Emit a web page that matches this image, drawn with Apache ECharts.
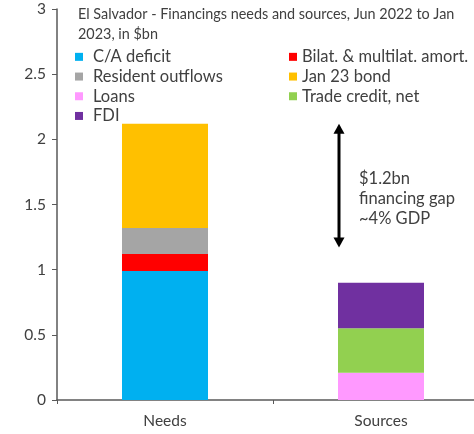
<!DOCTYPE html>
<html>
<head>
<meta charset="utf-8">
<script src="https://cdn.jsdelivr.net/npm/echarts@6/dist/echarts.min.js"></script>
<style>
  html, body { margin: 0; padding: 0; background: #fff; overflow: hidden; }
  /* plot area runs past the right edge of the window, so the canvas is wider */
  #chart { width: 489px; height: 434px; }
</style>
</head>
<body>
<div id="chart"></div>
<script>
// Financing needs vs sources, $bn
const categories = ['Needs', 'Sources'];
const caDeficit      = [0.99, '-'];
const bilatAmort     = [0.13, '-'];
const residentOut    = [0.20, '-'];
const jan23Bond      = [0.80, '-'];
const loans          = ['-', 0.21];
const tradeCredit    = ['-', 0.34];
const fdi            = ['-', 0.35];
const yTicks = [0, 0.5, 1, 1.5, 2, 2.5, 3];
const gapTop = 2.12, gapBottom = 1.17;
const gapText = ['$1.2bn', 'financing gap', '~4% GDP'];

const FONT = 'Lato';
const TXT = '#404040';
const BAR_W = 86;

const seriesDefs = [
  { name: 'C/A deficit', data: caDeficit, color: '#00B0F0' },
  { name: 'Bilat. & multilat. amort.', data: bilatAmort, color: '#FF0000' },
  { name: 'Resident outflows', data: residentOut, color: '#A5A5A5' },
  { name: 'Jan 23 bond', data: jan23Bond, color: '#FFC000' },
  { name: 'Loans', data: loans, color: '#FF99FF' },
  { name: 'Trade credit, net', data: tradeCredit, color: '#92D050' },
  { name: 'FDI', data: fdi, color: '#7030A0' }
];

const chart = echarts.init(document.getElementById('chart'), null, { renderer: 'canvas' });

function legendColumn(left, names, gap) {
  return {
    orient: 'vertical',
    left: left,
    top: 47,
    padding: 0,
    itemWidth: 8,
    itemHeight: 8,
    itemGap: 0,
    icon: 'rect',
    selectedMode: false,
    data: names,
    textStyle: { fontFamily: FONT, fontSize: 16.5, color: TXT, lineHeight: 19.7, padding: [0, 0, 0, gap] }
  };
}

chart.setOption({
  animation: false,
  title: {
    text: 'El Salvador - Financings needs and sources, Jun 2022 to Jan\n2023, in $bn',
    left: 78,
    top: 4,
    padding: 0,
    textStyle: { fontFamily: FONT, fontSize: 14.4, fontWeight: 'normal', color: TXT, lineHeight: 20 }
  },
  legend: [
    legendColumn(75, ['C/A deficit', 'Resident outflows', 'Loans', 'FDI'], 5),
    legendColumn(289, ['Bilat. & multilat. amort.', 'Jan 23 bond', 'Trade credit, net'], 0)
  ],
  grid: { left: 57, right: 0, top: 9, bottom: 34, containLabel: false },
  xAxis: {
    type: 'category',
    data: categories,
    axisLine: { lineStyle: { color: '#595959', width: 1.5 } },
    axisTick: { show: true, length: 4, lineStyle: { color: '#595959' } },
    axisLabel: { fontFamily: FONT, fontSize: 15.5, color: TXT, margin: 13 }
  },
  yAxis: {
    type: 'value',
    min: yTicks[0],
    max: yTicks[yTicks.length - 1],
    interval: 0.5,
    splitLine: { show: false },
    axisLine: { show: true, lineStyle: { color: '#595959', width: 1.5 } },
    axisTick: { show: true, length: 5, lineStyle: { color: '#595959' } },
    axisLabel: { fontFamily: FONT, fontSize: 15.5, color: TXT, margin: 11 }
  },
  series: seriesDefs.map(s => ({
    name: s.name,
    type: 'bar',
    stack: 'total',
    barWidth: BAR_W,
    data: s.data,
    itemStyle: { color: s.color }
  }))
});

// Financing-gap annotation: double-headed arrow beside the Sources bar
function drawGap() {
  const top = chart.convertToPixel({ gridIndex: 0 }, ['Sources', gapTop]);
  const bot = chart.convertToPixel({ gridIndex: 0 }, ['Sources', gapBottom]);
  const x = top[0] - BAR_W / 2 + 1;
  const head = 10, hw = 5.5;
  const mid = (top[1] + bot[1]) / 2;
  chart.setOption({
    graphic: [
      { type: 'line', shape: { x1: x, y1: top[1] + head - 1, x2: x, y2: bot[1] - head + 1 },
        style: { stroke: '#000', lineWidth: 3 } },
      { type: 'polygon', shape: { points: [[x, top[1]], [x - hw, top[1] + head], [x + hw, top[1] + head]] },
        style: { fill: '#000' } },
      { type: 'polygon', shape: { points: [[x, bot[1]], [x - hw, bot[1] - head], [x + hw, bot[1] - head]] },
        style: { fill: '#000' } },
      { type: 'text', left: x + 20, top: mid - 17,
        style: { text: gapText.join('\n'), fontFamily: FONT, fontSize: 16.5, fill: TXT, lineHeight: 20 } }
    ]
  });
}
drawGap();
</script>
</body>
</html>
